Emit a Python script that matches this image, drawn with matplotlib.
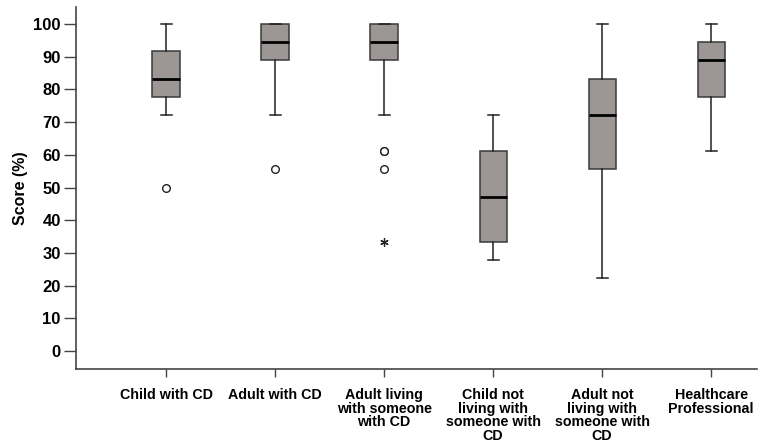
import matplotlib.pyplot as plt

plt.rcParams['font.family'] = ['Liberation Sans', 'DejaVu Sans']
plt.rcParams['font.weight'] = 'bold'

groups = ["Child with CD", "Adult with CD", "Adult living\nwith someone\nwith CD",
          "Child not\nliving with\nsomeone with\nCD", "Adult not\nliving with\nsomeone with\nCD",
          "Healthcare\nProfessional"]
whislo = [72.2, 72.2, 72.2, 27.8, 22.2, 61.1]
q1 = [77.8, 88.9, 88.9, 33.3, 55.6, 77.8]
med = [83.3, 94.4, 94.4, 47.2, 72.2, 88.9]
q3 = [91.7, 100, 100, 61.1, 83.3, 94.4]
whishi = [100, 100, 100, 72.2, 100, 100]
outliers = [[50], [55.6], [61.1, 61.1, 55.6], [], [], []]
extremes = [[], [], [33.3], [], [], []]

stats = []
for i in range(len(groups)):
    stats.append(dict(whislo=whislo[i], q1=q1[i], med=med[i], q3=q3[i],
                      whishi=whishi[i], fliers=outliers[i], label=groups[i]))

fig = plt.figure(figsize=(7.61, 4.43), dpi=100)
ax = fig.add_axes([76/761, 1 - 369/443, 681/761, 362/443])

pos = list(range(1, len(groups) + 1))
ax.bxp(stats, positions=pos, widths=0.25, patch_artist=True,
       boxprops=dict(facecolor='#9c9795', edgecolor='#3a3a3a', linewidth=1.1),
       medianprops=dict(color='black', linewidth=2),
       whiskerprops=dict(color='#222222', linewidth=1.1),
       capprops=dict(color='#222222', linewidth=1.1),
       capwidths=0.1,
       flierprops=dict(marker='o', markerfacecolor='white', markeredgecolor='#222222',
                       markersize=5.5, markeredgewidth=1))

for i, ex in enumerate(extremes):
    if ex:
        ax.plot([pos[i]] * len(ex), ex, linestyle='none', marker=(6, 2, 0),
                markersize=6, color='#222222', markeredgewidth=0.9)

ax.set_xlim(0.174, 6.42)
ax.set_ylim(-5.5, 105.2)
ax.set_yticks(range(0, 101, 10))
ax.spines['top'].set_visible(False)
ax.spines['right'].set_visible(False)
for s in ['left', 'bottom']:
    ax.spines[s].set_color('#444444')
    ax.spines[s].set_linewidth(1.2)
ax.tick_params(axis='y', length=9, width=1, color='#444444', labelsize=12, pad=2)
ax.tick_params(axis='x', length=6, width=1, color='#444444', labelsize=10.3, pad=8)
ax.set_xticklabels(groups, fontweight='bold', linespacing=0.95)
for t in ax.get_yticklabels():
    t.set_fontweight('bold')
ax.set_ylabel("Score (%)", fontsize=11.5, fontweight='bold', labelpad=4)

fig.savefig("out.png", dpi=100)
